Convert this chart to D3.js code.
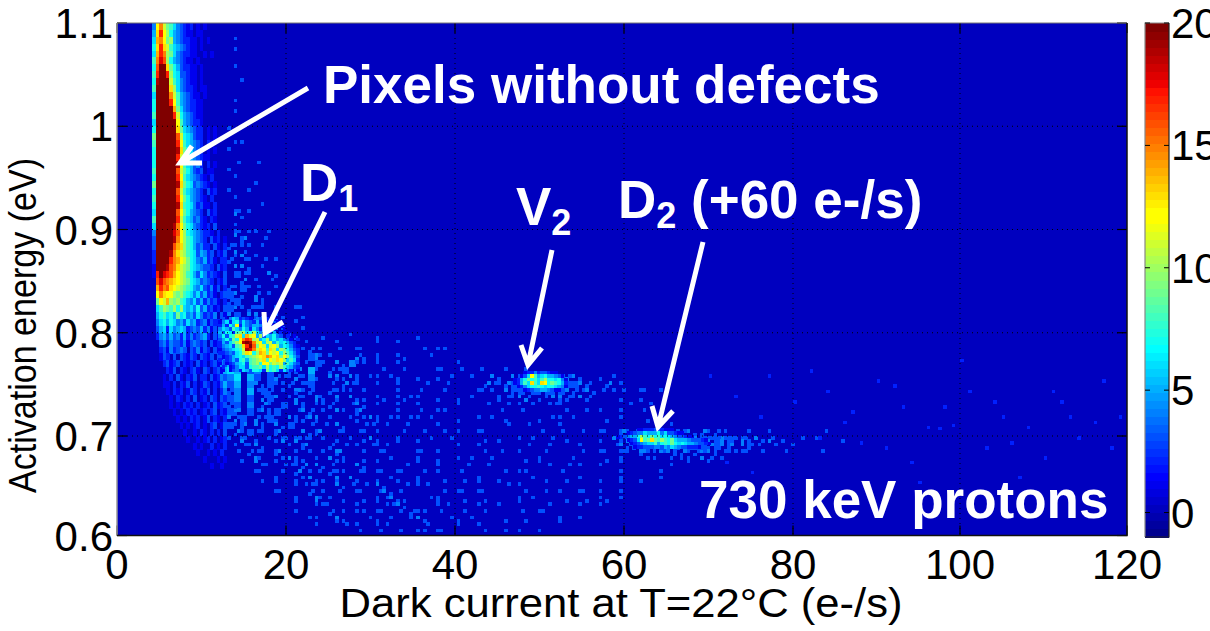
<!DOCTYPE html>
<html><head><meta charset="utf-8">
<script src="https://cdn.jsdelivr.net/npm/d3@7/dist/d3.min.js"></script>
<style>html,body{margin:0;background:#fff}svg{display:block}text{font-family:"Liberation Sans",Arial,sans-serif}</style>
</head><body><svg id="c" width="1210" height="631"></svg>
<script>
// Counts per bin; one character per bin, base 21 (0-9, a=10 ... k=20).
const bandRows = [
"4cfb986432120101","5dhca7543211011","6efc9a54322110101","7dhdb8654321101","6ehfa9643221100101","8figa7543211010",
"7gkkd9753221101","8hkkha763321101","7jkkkb8643211010","8kkkkda643221011","6kkkkfb854321101","7kkkkhc854322110",
"7kkkkke96432211","8kkkkkhb7543211","6kkkkkkc8543221",
"7kkkkkkd96543220101","9kkkkkkgb7653220101","8kkkkkkhc8654320210","7kkkkkkjd9764320101","7kkkkkkhb9754321100",
"7kkkkkkjc8653420201","8kkkkkkgb9753230110","7kkkkkkhc8654321020","9kkkkkkjd9763432101","7kkkkkkgb8654320312",
"8kkkkkkhc9754321020","7kkkkkkjd8764231102","6kkkkkkgc9754320312","8kkkkkkhb8653421021","6kkkkkjfc9764321203",
"4kkkkkigca76543221020","3kkkkkjfca875432031201","3kkkkkgeda875342203102","2kkkkjfdba876354230213","2kkkkhfecb976435231022",
"1kkkjgfdba976543320312","1hkihgecba875364232103","0gigfedcba976534320213","0ehfgdcba9875463241302","0cfdcca9a8764635231023",
"09cbea9a87546352423102","068a98a7a6564735231203","0578675967453642324031","0467576453645234132203","0356264565234352413023",
"0245353425242345203132","0034243324134323031243","0023142343032413203134","0013203032132032130324","0002312302120312023143",
"0000213021023103202315","0001020310213022031243","0001102021302013202135","0000102120132021302024","0000010210203012032032",
"0000010102120201203123","0000001010212012023021","0000000101021201302102","0000000010101201023013","0000000001001021020203",
"0000000000100101202012","0000000000001010020102","0000000000000100101020","0000000000000001000101","0000000000000000010010"
];
const fieldRows = [
"","1","","01","","1","","","001","","1","","01","","","1",
"1","0010","1","","01001","1","0101","","1001","01","1000010","0201","1","10010","0201001",
"1020010","201001","0120100","20100101","1020010","0301002","1020101","20301","3010201",
"2301201001","3012011000100","2302010010010","3401202100100","4302012010010",
"4530120101100010001000100000100",
"3040321001010000101000100100001",
"3605230120012100100101001000010010",
"4605340201103201000210100010001000",
"5704503202011300204100100100001000100",
"6503403120205002031001010010000100100100010010",
"460530320120410201200100110010010100"+"100200"+"232323232"+"21001010",
"350420310201300102010010110001001000"+"102012"+"343434343"+"32100201"+"01001",
"240503201021200201001100100110001000"+"010102"+"232323232"+"20201001"+"001",
"340302300120021010201001001100010010"+"100010"+"102010201"+"10100001"+"0010",
"230402103020010200120010110010100010"+"001001"+"010001010"+"00010010"+"1001",
"320312030102201001020100100110001000"+"100010"+"010000101"+"00100010"+"0010",
"223020310201200100110200100100100010"+"000101"+"000010100"+"10000100"+"0001",
"312020120300101020001101001000010100"+"100001"+"001000010"+"00010010"+"010000100",
"021301020102020001011000101001001000"+"010000100010010010010"+"121212121212121210101"+"00100010001",
"102010112020100010101200010010100100"+"001010000100101000010"+"212323232323232323121212"+"010000100010",
"011020100102000201010011000100100010"+"010000101001000010100"+"121212232323232322121"+"1000010001",
"010201020100101020001011000110000100"+"001010000101000010010"+"101021012121212101"+"0100000100",
"001020010201000201001010100010010000"+"100100001010000100001"+"0100001000010"+"0100",
"000101001012020100020100101000110001"+"001000100001001010010"+"1000001010",
"000010101020010201001010010101000010"+"100001001000010100000"+"1000001",
"000001010010201010200010110010001001"+"010010000101001000010"+"01001",
"000000100011010020101020001011000100"+"100001010000100100100"+"1000",
"000000010100201010010102010000101010"+"010000101001000010100"+"10",
"000000000010020101001010201000110001"+"001000010100001001001",
"000000000100011000110101020100011000"+"010010000101000010010",
"000000000000100201001010010201010001"+"001000010010100100",
"000000000000100011000110100101000110"+"100001001000010",
"000000000000010001010011000101100010"+"010000100100",
"000000000000000100010010010001010000"+"001001000"
];
const farSpeckX = [84,92,96,101,105,108,112,116,88,80,93,99,103,110,95,107,118,86,76,73,70,77,97.4,90,114,82,104,119,100,94,111,75,87,106,117,83,98,91,72,113];
const farSpeckY = [0.745,0.75,0.71,0.745,0.72,0.71,0.735,0.715,0.695,0.735,0.73,0.712,0.69,0.68,0.655,0.66,0.69,0.715,0.72,0.74,0.76,0.76,0.709,0.755,0.7,0.765,0.735,0.72,0.775,0.675,0.745,0.665,0.725,0.695,0.755,0.7,0.73,0.69,0.675,0.72];
const d1Rows = [
"030465232104312010000000","146267364325230101000000","25275c264355412010100000","465386475264253410010000",
"5376289a67a6453250201000","47378bd6ebc5a36574302010","357497cfhgab57a575643102","25368acjkjfbc6ab58675320",
"2456389dhkg9cb6bca576421","1345678bjifbdc8db6a97532","2234367adc7aed9cbc7a8642","3123567689abcdfecd9ca753",
"20235378589abd8cbdca6862","10123567389a7cc9bab58643","02012466378896a787a86532","010134265377629786264201"
];
const v2Rows = ["000012242332110000","000136c85675540100","0125797868a7767410","012586d86dc7987520","001246778767765410","000012344554311000"];
const d2Rows = [
"000000001122233211100000000000","000001234465557463321100000000","001234557a87978676543321100000",
"000001236c89d98a87965554333210","000000123456685787976765543321","000000012233344354654332221000"
];
const xTicks = [0,20,40,60,80,100,120];
const yTicks = [0.6,0.7,0.8,0.9,1,1.1];
const cTicks = [0,5,10,15,20];
const arrows = [
 [[308,88],[180,163],[192,146],[202,163]],
 [[325,212],[265,333],[264,312],[283,322]],
 [[552,250],[528,365],[521,345],[542,348]],
 [[703,242],[658,427],[652,406],[673,411]]
];

const x = d3.scaleLinear().domain([0,80,120]).range([117,793,1127]);
const y = d3.scaleLinear().domain([0.6,0.7,1.1]).range([535.5,436,23]);
const cbY = d3.scaleLinear().domain([-1,20]).range([537,23]);
const clamp = v => Math.max(0,Math.min(1,v));
const levels = d3.range(64);
const jet = i => d3.rgb(255*clamp(Math.min((i-23)/16,(71-i)/16)),255*clamp(Math.min((i-7)/16,(56-i)/16)),255*clamp(Math.min((i+9)/16,(39-i)/16))).formatHex();
const color = d3.scaleQuantize().domain([-1,20]).range(levels.map(jet));

const svg = d3.select("#c");
const L=x(0),R=x(120),T=y(1.1),B=y(0.6);
svg.append("defs").append("clipPath").attr("id","plot").append("rect").attr("x",L).attr("y",T).attr("width",R-L).attr("height",B-T);
const plot=svg.append("g").attr("clip-path","url(#plot)");
plot.append("rect").attr("x",L).attr("y",T).attr("width",R-L).attr("height",B-T).attr("fill",color(0));

const binX=0.4, binY=0.00333;
function draw(cells){
  plot.append("g").attr("shape-rendering","crispEdges").selectAll("rect").data(cells).join("rect")
    .attr("x",d=>x(d.x)).attr("y",d=>y(d.y))
    .attr("width",d=>x(d.x+d.w)-x(d.x)+0.3).attr("height",d=>y(d.y-d.h)-y(d.y)+0.3)
    .attr("fill",d=>color(d.v));
}
function layer(rows,x0,dx,y0,dy){
  const cells=[];
  rows.forEach((s,r)=>[...s].forEach((c,k)=>{const v=parseInt(c,21); if(v>0) cells.push({x:x0+k*dx,y:y0-r*dy,w:dx,h:dy,v});}));
  draw(cells);
}
// In the sparse field a "1" marks one isolated detector bin in the coarser cell, a "2" marks three; 3+ fills the cell.
function field(rows,x0,dx,y0,dy){
  const cells=[];
  const speck=(k,r,n,v)=>({x:x0+k*dx+((k*k*3+r*r*5+k*r+n)%3)*binX,y:y0-r*dy-((k*k+r*r*2+k*r*3+n*2)%3)*binY,w:binX,h:binY,v});
  rows.forEach((s,r)=>[...s].forEach((c,k)=>{const v=parseInt(c,21);
    if(v===1) cells.push(speck(k,r,0,3));
    else if(v===2){cells.push(speck(k,r,0,4.2));cells.push(speck(k,r,1,3));cells.push(speck(k,r,2,3));}
    else if(v>2) cells.push({x:x0+k*dx,y:y0-r*dy,w:dx,h:dy,v});}));
  draw(cells);
}
const dyM=0.5/75;
field(fieldRows,13,0.8,1.1,dyM);
draw(farSpeckX.map((fx,i)=>({x:fx,y:farSpeckY[i],w:binX,h:binY,v:2.2})));
layer(bandRows,4.2,0.4,1.1,dyM);
layer(d1Rows,12,0.4,0.8153,0.00333);
layer(v2Rows,46.5,0.4,0.763,0.00333);
layer(d2Rows,58.3,0.4,0.7077,0.00333);

// grid
const grid=svg.append("g").attr("stroke","#000").attr("stroke-width",1).attr("stroke-dasharray","1 4");
grid.selectAll(".gx").data(xTicks.slice(1,-1)).join("line").attr("x1",d=>x(d)).attr("x2",d=>x(d)).attr("y1",T).attr("y2",B);
grid.selectAll(".gy").data(yTicks.slice(1,-1)).join("line").attr("y1",d=>y(d)).attr("y2",d=>y(d)).attr("x1",L).attr("x2",R);
// axes
const ax=svg.append("g").attr("font-size",42).attr("fill","#000");
const tk=svg.append("g").attr("stroke","#000").attr("stroke-width",1.2);
tk.selectAll(".a").data(xTicks).join("line").attr("x1",d=>x(d)).attr("x2",d=>x(d)).attr("y1",B).attr("y2",B-10);
tk.selectAll(".b").data(xTicks).join("line").attr("x1",d=>x(d)).attr("x2",d=>x(d)).attr("y1",T).attr("y2",T+10);
tk.selectAll(".c").data(yTicks).join("line").attr("y1",d=>y(d)).attr("y2",d=>y(d)).attr("x1",L).attr("x2",L+10);
tk.selectAll(".d").data(yTicks).join("line").attr("y1",d=>y(d)).attr("y2",d=>y(d)).attr("x1",R).attr("x2",R-10);
ax.selectAll(".xl").data(xTicks).join("text").attr("x",d=>x(d)).attr("y",579).attr("text-anchor","middle").text(d=>d);
ax.selectAll(".yl").data(yTicks).join("text").attr("x",113).attr("y",d=>y(d)+15).attr("text-anchor","end").text(d=>d);
svg.append("path").attr("d",`M${L},${T}V${B}`).attr("stroke","#999").attr("stroke-width",1.5).attr("fill","none");
svg.append("path").attr("d",`M${L},${T}H${R}`).attr("stroke","#777").attr("stroke-width",1).attr("fill","none");
svg.append("path").attr("d",`M${L},${B}H${R}V${T}`).attr("stroke","#111").attr("stroke-width",1.5).attr("fill","none");

ax.append("text").attr("x",621).attr("y",617).attr("font-size",41).attr("text-anchor","middle").attr("textLength",563).attr("lengthAdjust","spacingAndGlyphs").text("Dark current at T=22°C (e-/s)");
ax.append("text").attr("transform","translate(36,325.5) rotate(-90)").attr("font-size",39).attr("text-anchor","middle").attr("textLength",335).attr("lengthAdjust","spacingAndGlyphs").text("Activation energy (eV)");

// colorbar
const cbX0=1145,cbX1=1169;
svg.append("g").attr("shape-rendering","crispEdges").selectAll("rect").data(levels).join("rect")
  .attr("x",cbX0).attr("width",cbX1-cbX0)
  .attr("y",i=>cbY(-1+(i+1)*21/64)).attr("height",(537-23)/64+0.5).attr("fill",i=>jet(i));
svg.append("path").attr("d",`M${cbX0},537V23H${cbX1}`).attr("stroke","#888").attr("stroke-width",1.2).attr("fill","none");
svg.append("path").attr("d",`M${cbX0},537H${cbX1}V23`).attr("stroke","#222").attr("stroke-width",1.2).attr("fill","none");
const ct=svg.append("g").attr("stroke","#000").attr("stroke-width",1);
ct.selectAll(".e").data(cTicks).join("line").attr("y1",d=>cbY(d)).attr("y2",d=>cbY(d)).attr("x1",cbX0).attr("x2",cbX0+5);
ct.selectAll(".f").data(cTicks).join("line").attr("y1",d=>cbY(d)).attr("y2",d=>cbY(d)).attr("x1",cbX1).attr("x2",cbX1-5);
ax.selectAll(".cl").data(cTicks).join("text").attr("x",1171).attr("y",d=>cbY(d)+15).text(d=>d);

// annotations
const notes=svg.append("g").attr("fill","#fff").attr("font-weight","bold").attr("font-size",53);
notes.append("text").attr("x",323).attr("y",103).text("Pixels without defects");
notes.append("text").attr("x",699).attr("y",518).text("730 keV protons");
function sub(px,py,a,b,c){const t=notes.append("text").attr("x",px).attr("y",py);
  t.append("tspan").text(a);t.append("tspan").attr("dy",10).attr("font-size",36).text(b);
  if(c)t.append("tspan").attr("dy",-10).text(c);}
sub(300,201,"D","1");
sub(516,225,"V","2");
sub(618,218,"D","2"," (+60 e-/s)");
const ag=svg.append("g").attr("stroke","#fff").attr("stroke-width",5).attr("fill","none");
ag.selectAll("path").data(arrows).join("path").attr("d",a=>`M${a[0]}L${a[1]}M${a[2]}L${a[1]}L${a[3]}`);
</script></body></html>
